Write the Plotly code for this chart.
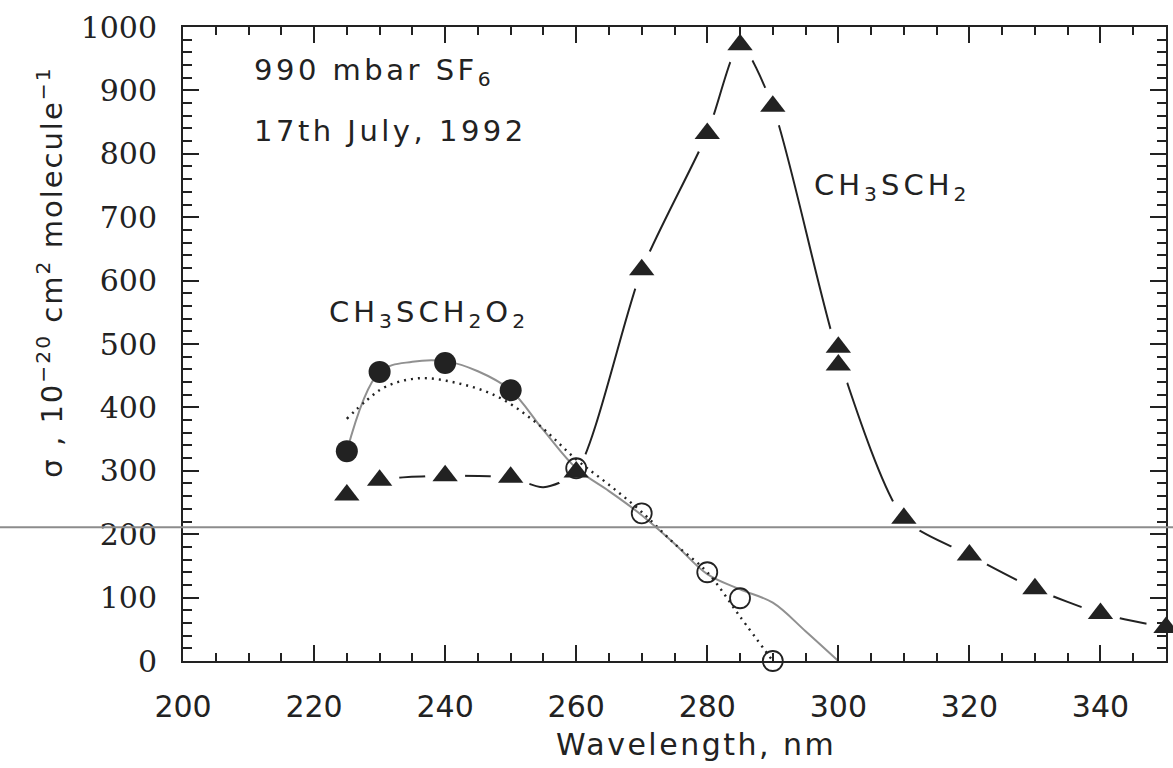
import plotly.graph_objects as go

# ---- data ----
# CH3SCH2 (filled triangles)
tri_x = [225, 230, 240, 250, 260, 270, 280, 285, 290, 300, 300, 310, 320, 330, 340, 350]
tri_y = [262, 285, 292, 290, 298, 617, 832, 972, 875, 495, 467, 225, 167, 114, 75, 53]
# long line through the triangles (includes the dip seen near 255 nm)
trifit_x = [225, 230, 240, 250, 255, 260, 270, 280, 285, 290, 300, 310, 320, 330, 340, 350]
trifit_y = [262, 285, 292, 289, 274, 298, 617, 832, 972, 875, 481, 225, 167, 114, 75, 53]

# CH3SCH2O2 (filled circles)
fc_x = [225, 230, 240, 250]
fc_y = [331, 456, 470, 427]
# open circles
oc_x = [260, 270, 280, 285, 290]
oc_y = [304, 233, 140, 99, 0]

# grey smooth curve
grey_x = [225, 230, 235, 240, 245, 250, 255, 260, 265, 270, 275, 280, 285, 290, 295, 300]
grey_y = [331, 456, 472, 473, 457, 427, 364, 304, 268, 230, 185, 137, 113, 92, 47, 0]
# dotted curve
dot_x = [225, 228, 231, 236, 242, 248, 254, 260, 265, 270, 275, 280, 285, 290]
dot_y = [382, 411, 433, 446, 438, 417, 375, 318, 278, 235, 185, 140, 70, 0]

x_ticks = [200, 220, 240, 260, 280, 300, 320, 340]
y_ticks = [0, 100, 200, 300, 400, 500, 600, 700, 800, 900, 1000]
scan_line_y = 211

INK = "#222222"
fig = go.Figure()

fig.add_trace(go.Scatter(x=trifit_x, y=trifit_y, mode="lines",
                         line=dict(color=INK, width=2, shape="spline", smoothing=0.7),
                         hoverinfo="skip", showlegend=False))
# white halos that break the line around each triangle
fig.add_trace(go.Scatter(x=tri_x, y=tri_y, mode="markers",
                         marker=dict(symbol="circle", size=40, color="white", line=dict(width=0)),
                         cliponaxis=False, hoverinfo="skip", showlegend=False))
fig.add_trace(go.Scatter(x=grey_x, y=grey_y, mode="lines",
                         line=dict(color="#909090", width=2, shape="spline", smoothing=1),
                         hoverinfo="skip", showlegend=False))
fig.add_trace(go.Scatter(x=dot_x, y=dot_y, mode="lines",
                         line=dict(color=INK, width=2.4, dash="2px,5px", shape="spline", smoothing=1),
                         hoverinfo="skip", showlegend=False))
fig.add_trace(go.Scatter(x=tri_x, y=tri_y, mode="markers",
                         marker=dict(symbol="triangle-up", size=22, color=INK, line=dict(width=0)),
                         cliponaxis=False, showlegend=False))
fig.add_trace(go.Scatter(x=fc_x, y=fc_y, mode="markers",
                         marker=dict(symbol="circle", size=22, color=INK, line=dict(width=0)),
                         cliponaxis=False, showlegend=False))
fig.add_trace(go.Scatter(x=oc_x, y=oc_y, mode="markers",
                         marker=dict(symbol="circle-open", size=20, color=INK, line=dict(width=1.8)),
                         cliponaxis=False, showlegend=False))


def spaced(s, px):
    return '<span style="letter-spacing:%spx">%s</span>' % (px, s)


txt = dict(family="DejaVu Sans", size=29, color=INK)
fig.add_annotation(x=210.5, y=929, xref="x", yref="y", text=spaced("990 mbar SF<sub>6</sub>", 3.5),
                   showarrow=False, xanchor="left", yanchor="middle", font=txt)
fig.add_annotation(x=210.5, y=836, xref="x", yref="y", text=spaced("17th July, 1992", 3.5),
                   showarrow=False, xanchor="left", yanchor="middle", font=txt)
fig.add_annotation(x=296.0, y=747, xref="x", yref="y",
                   text=spaced("CH<sub>3</sub>SCH<sub>2</sub>", 4),
                   showarrow=False, xanchor="left", yanchor="middle", font=txt)
fig.add_annotation(x=222.0, y=547, xref="x", yref="y",
                   text=spaced("CH<sub>3</sub>SCH<sub>2</sub>O<sub>2</sub>", 4),
                   showarrow=False, xanchor="left", yanchor="middle", font=txt)
# axis titles
fig.add_annotation(x=-0.135, y=613, xref="paper", yref="y",
                   text=spaced("σ , 10<sup>−20</sup> cm<sup>2</sup> molecule<sup>−1</sup>", 2),
                   textangle=-90, showarrow=False, xanchor="center", yanchor="middle",
                   font=dict(family="DejaVu Sans", size=29, color=INK))
fig.add_annotation(x=0.522, y=-0.132, xref="paper", yref="paper",
                   text=spaced("Wavelength, nm", 2.5),
                   showarrow=False, xanchor="center", yanchor="middle",
                   font=dict(family="DejaVu Sans", size=30, color=INK))

# horizontal scan artefact across the page
fig.add_shape(type="line", xref="paper", yref="y", x0=-0.2, x1=1.01,
              y0=scan_line_y, y1=scan_line_y, layer="above",
              line=dict(color="#8c8c8c", width=2))

fig.update_layout(
    width=1173, height=768,
    margin=dict(l=183, r=5, t=27, b=107),
    paper_bgcolor="white", plot_bgcolor="white",
    xaxis=dict(range=[200, 350], tickvals=x_ticks, ticktext=[str(v) for v in x_ticks],
               ticks="inside", ticklen=16, tickwidth=1.5, tickcolor=INK,
               showline=True, linecolor=INK, linewidth=2, mirror="ticks",
               showgrid=False, zeroline=False,
               minor=dict(dtick=5, tick0=200, ticks="inside", ticklen=8, tickwidth=1.5,
                          tickcolor=INK, showgrid=False),
               tickfont=dict(family="DejaVu Sans", size=30, color=INK),
               ticklabelstandoff=18),
    yaxis=dict(range=[0, 1000], tickvals=y_ticks, ticktext=[str(v) for v in y_ticks],
               ticks="inside", ticklen=16, tickwidth=1.5, tickcolor=INK,
               showline=True, linecolor=INK, linewidth=2, mirror="ticks",
               showgrid=False, zeroline=False,
               minor=dict(dtick=20, tick0=0, ticks="inside", ticklen=9, tickwidth=1.5,
                          tickcolor=INK, showgrid=False),
               tickfont=dict(family="DejaVu Serif", size=30, color=INK),
               ticklabelstandoff=18),
)

fig.write_html("out.html")
